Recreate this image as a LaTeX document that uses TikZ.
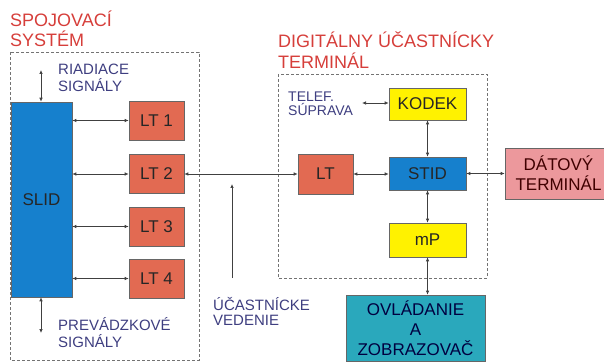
\documentclass[tikz,border=0pt]{standalone}
\usepackage{fontspec}
\setmainfont{Liberation Sans}
\usetikzlibrary{arrows.meta}

\definecolor{titlered}{RGB}{214,62,58}
\definecolor{labelblue}{RGB}{62,62,128}
\definecolor{slidblue}{RGB}{22,128,205}
\definecolor{ltorange}{RGB}{226,106,82}
\definecolor{kodyellow}{RGB}{255,242,0}
\definecolor{ovlteal}{RGB}{42,168,188}
\definecolor{datpink}{RGB}{236,152,156}

\begin{document}
\begin{tikzpicture}[x=1pt,y=-1pt,
		blok/.style={draw=black!60, line width=0.6pt, inner sep=0pt, align=center,
			text=black!85, font=\fontsize{17}{20}\selectfont},
		ltblok/.style={blok, fill=ltorange, minimum width=55pt, minimum height=39pt},
		modblok/.style={blok, minimum width=77pt, minimum height=33pt},
		nadpis/.style={text=titlered, anchor=west, inner sep=0pt, align=left,
			font=\fontsize{18}{20}\selectfont},
		popis/.style={text=labelblue, anchor=west, inner sep=0pt, align=left,
			font=\fontsize{15}{17}\selectfont},
		spoj/.style={draw=black!75, line width=0.7pt, {Latex[length=4pt,width=3.5pt]}-{Latex[length=4pt,width=3.5pt]}},
		ramec/.style={draw=black!55, line width=0.6pt, dash pattern=on 3pt off 2pt}]
		\useasboundingbox (0,0) rectangle (604,363);

		% spojovaci system
		\draw[ramec] (10,52) rectangle (199,360);
		\node[nadpis] (tspoj) at (10,29) {SPOJOVACÍ\\SYSTÉM};
		\node[blok, fill=slidblue, minimum width=61pt, minimum height=195pt] (slid) at (41.5,199.5) {SLID};
		\node[ltblok] (lt1) at (156.5,120.5) {LT 1};
		\node[ltblok] (lt2) at (156.5,174) {LT 2};
		\node[ltblok] (lt3) at (156.5,226.5) {LT 3};
		\node[ltblok] (lt4) at (156.5,278.5) {LT 4};
		\foreach \i in {1,...,4}
			\draw[spoj] (slid.east |- lt\i) -- (lt\i.west);

		\coordinate (riadend) at (41,70);
		\coordinate (prevend) at (41,333);
		\draw[spoj] (riadend) -- (slid.north -| riadend);
		\draw[spoj] (slid.south -| prevend) -- (prevend);
		\node[popis] (riad) at (58,78) {RIADIACE\\SIGNÁLY};
		\node[popis, font=\fontsize{15}{16.5}\selectfont] (prev) at (58,332.5) {PREVÁDZKOVÉ\\SIGNÁLY};

		% ucastnicke vedenie
		\coordinate (vedbot) at (232,278);
		\coordinate (vedtop) at (232,184);
		\draw[draw=black!75, line width=0.7pt, -{Latex[length=4pt,width=3.5pt]}] (vedbot) -- (vedtop);
		\node[popis, font=\fontsize{15}{15.5}\selectfont] (ved) at (213,311.5) {ÚČASTNÍCKE\\VEDENIE};

		% digitalny ucastnicky terminal
		\draw[ramec] (278,74) rectangle (487,278);
		\node[nadpis, font=\fontsize{18}{21}\selectfont] (tdig) at (278,50) {DIGITÁLNY ÚČASTNÍCKY\\TERMINÁL};
		\node[ltblok, minimum height=40pt] (ltd) at (325.5,174) {LT};
		\node[modblok, fill=kodyellow, minimum height=32pt] (kodek) at (427.5,104) {KODEK};
		\node[modblok, fill=slidblue] (stid) at (427.5,173.5) {STID};
		\node[modblok, fill=kodyellow, minimum height=34pt] (mp) at (427.5,240) {mP};
		\node[blok, fill=ovlteal, minimum width=139pt, minimum height=66pt, text=black!75!blue] (ovl) at (415.5,328) {OVLÁDANIE\\A\\ZOBRAZOVAČ};
		\node[blok, fill=datpink, minimum width=107pt, minimum height=51pt, text=black!75!red] (dat) at (558.5,173.5) {DÁTOVÝ\\TERMINÁL};

		\coordinate (telend) at (362,103);
		\node[popis, font=\fontsize{14}{13.5}\selectfont] (telef) at (288,104) {TELEF.\\SÚPRAVA};
		\draw[spoj] (telend) -- (kodek.west |- telend);

		\draw[spoj] (lt2.east) -- (ltd.west);
		\draw[spoj] (ltd.east) -- (stid.west |- ltd);
		\draw[spoj] (stid.east) -- (dat.west);
		\draw[spoj] (kodek.south) -- (stid.north);
		\draw[spoj] (stid.south) -- (mp.north);
		\draw[spoj] (mp.south) -- (ovl.north -| mp);
	\end{tikzpicture}
\end{document}
